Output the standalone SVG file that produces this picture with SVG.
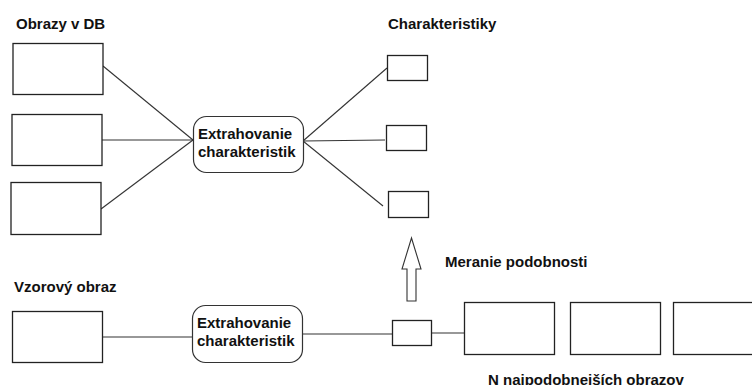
<svg xmlns="http://www.w3.org/2000/svg" width="752" height="385" viewBox="0 0 752 385">
<style>
.box{fill:#fff;stroke:#222;stroke-width:1.3}
.rbox{fill:#fff;stroke:#333;stroke-width:1.2}
.ln{stroke:#333;stroke-width:1.1;fill:none}
text{font-family:"Liberation Sans",Arial,sans-serif;font-weight:bold;font-size:15px;fill:#111}
</style>
<rect width="752" height="385" fill="#fff"/>
<g id="connectors">
<line class="ln" x1="103" y1="66" x2="193" y2="140"/>
<line class="ln" x1="102" y1="140" x2="193" y2="140"/>
<line class="ln" x1="101" y1="209" x2="193" y2="140"/>
<line class="ln" x1="303" y1="141" x2="387" y2="68"/>
<line class="ln" x1="303" y1="141" x2="385" y2="140"/>
<line class="ln" x1="303" y1="141" x2="383" y2="206"/>
<line class="ln" x1="102" y1="337" x2="192" y2="337"/>
<line class="ln" x1="302" y1="334" x2="392" y2="334"/>
<line class="ln" x1="431" y1="333" x2="464" y2="333"/>
<polygon id="arrow" points="411.5,238 421,269 416,269 416,301 407,301 407,269 402,269" fill="#fff" stroke="#333" stroke-width="1.1"/>
</g>
<g id="title-db"><text x="16" y="29">Obrazy v DB</text></g>
<g id="db1"><rect class="box" x="13" y="43.5" width="90" height="51"/></g>
<g id="db2"><rect class="box" x="12" y="114.5" width="90" height="51"/></g>
<g id="db3"><rect class="box" x="11" y="182.5" width="90" height="52"/></g>
<g id="extract1">
<rect class="rbox" x="193.5" y="116.5" width="110" height="56" rx="13"/>
<text x="198" y="139">Extrahovanie</text>
<text x="198" y="157">charakteristik</text>
</g>
<g id="title-char"><text x="388" y="29">Charakteristiky</text></g>
<g id="c1"><rect class="box" x="387.5" y="55.5" width="40" height="25"/></g>
<g id="c2"><rect class="box" x="386.5" y="125.5" width="40" height="25"/></g>
<g id="c3"><rect class="box" x="388.5" y="191.5" width="40" height="26"/></g>
<g id="label-meranie"><text x="445" y="267">Meranie podobnosti</text></g>
<g id="title-vzor"><text x="14" y="292">Vzorový obraz</text></g>
<g id="vzor"><rect class="box" x="12.5" y="311.5" width="90" height="51"/></g>
<g id="extract2">
<rect class="rbox" x="192.5" y="305.5" width="110" height="57" rx="13"/>
<text x="197" y="328">Extrahovanie</text>
<text x="197" y="346">charakteristik</text>
</g>
<g id="feat"><rect class="box" x="392.5" y="320.5" width="39" height="25"/></g>
<g id="r1"><rect class="box" x="464.5" y="302.5" width="90" height="52"/></g>
<g id="r2"><rect class="box" x="570.5" y="302.5" width="90" height="52"/></g>
<g id="r3"><rect class="box" x="673.5" y="302.5" width="90" height="52"/></g>
<g id="title-n"><text x="488" y="385">N najpodobnejších obrazov</text></g>
</svg>
